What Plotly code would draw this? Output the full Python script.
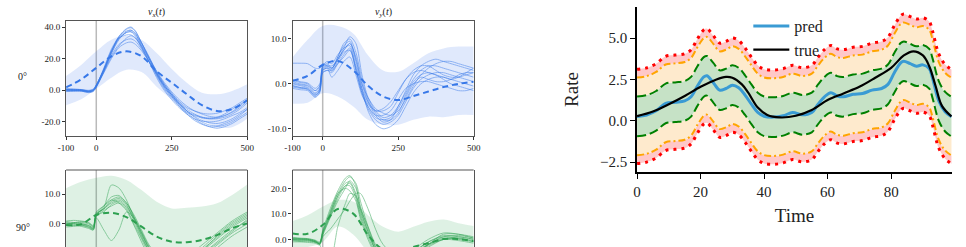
import plotly.graph_objects as go

# ---------------- data: left panels ----------------
EVENT_TIME = 0
BAND_T = [-100, -50, 0, 50, 100, 150, 200, 250, 300, 350, 400, 450, 500]

# v_x(t), 0 deg
VX0_MEAN = [1.9, 6.9, 14.2, 21.5, 24.6, 21.5, 12.0, 4.8, -2.5, -9.4, -13.1, -11.9, -6.3]
VX0_UP = [9.0, 16.0, 24.6, 32.0, 34.4, 32.0, 23.5, 13.5, 4.8, -1.5, -2.5, -0.4, 3.8]
VX0_LO = [-9.4, -5.6, 1.0, 8.0, 13.0, 11.5, 2.3, -5.6, -11.9, -18.5, -23.3, -23.3, -18.0]
VX0_T = [-100, -75, -50, -25, -10, 0, 25, 50, 75, 100, 115, 130, 150, 175, 200, 225, 250, 275, 300, 325, 350, 375, 400, 425, 450, 475, 500]
VX0_TRIALS = [
    [0.5, 0.3, 0.2, -0.8, 0.2, 3, 14, 26, 34, 38.5, 39.5, 37, 30, 21, 12, 4, -2, -8, -13, -17, -20, -22, -22.5, -21, -19, -16, -12],
    [-0.5, -0.3, -0.6, -1.2, -0.5, 2, 12, 23, 32, 37, 38, 36, 30, 21, 11, 3, -3, -9, -14, -18, -21, -23, -24, -23, -21, -18, -15],
    [0.8, 0.6, 0.5, 0, 0.8, 3.5, 13, 24, 33, 36.5, 37, 34, 27, 18, 9, 1, -5, -10, -14, -16, -17.5, -18, -17.5, -16, -13.5, -10, -6],
    [0.2, 0, -0.2, -0.6, 0, 2.5, 11, 20, 27, 30, 30.5, 29, 25, 18, 11, 4, -2, -7, -11, -13, -14.5, -15, -14.5, -13, -11, -8, -5],
    [-0.2, -0.4, -0.3, -1, -0.2, 2.8, 13.5, 25, 33.5, 37.5, 38, 35.5, 28, 18, 8, 0, -6, -11, -15, -18, -19.5, -20, -19.5, -18, -16, -14, -11],
    [1.0, 0.8, 0.4, -0.3, 0.5, 3.2, 12.5, 22, 29, 32, 32.5, 31, 26, 18, 10, 3, -3, -8, -12, -15, -17, -18, -18, -17, -15, -12, -8],
    [0.3, 0.1, 0, -0.9, -0.3, 2.2, 12, 24, 34, 39, 40, 37.5, 30, 20, 10, 2, -4, -10, -15, -19, -21.5, -23, -23, -22, -20, -17, -14],
    [-0.8, -0.6, -0.5, -1.5, -0.8, 1.8, 11.5, 21, 28, 33, 34.5, 33, 28, 20, 12, 5, -1, -6, -10, -13, -15, -16.5, -17, -16, -14, -11, -7],
    [0, -0.1, -0.1, -0.7, 0, 2.6, 12.8, 24, 32.5, 36.5, 37, 35, 29, 20, 11, 3, -3, -8.5, -13, -16.5, -19, -20.5, -21, -20, -18, -15, -12],
    [0.6, 0.4, 0.3, -0.4, 0.4, 3.3, 13.2, 25, 33, 35, 35, 33, 27, 19, 10, 2, -4, -9, -13, -15.5, -17, -17.5, -17, -15, -12, -9, -6],
]

# v_y(t), 0 deg
VY0_MEAN = [0.67, 1.8, 4.2, 5.1, 3.1, -0.4, -2.8, -3.6, -2.7, -1.7, -0.7, 0.0, 0.5]
VY0_UP = [5.9, 9.8, 12.9, 12.9, 11.3, 6.4, 3.0, 2.7, 4.6, 6.8, 7.9, 8.3, 8.3]
VY0_LO = [-4.4, -4.2, -2.1, -2.8, -5.0, -8.0, -9.1, -9.1, -8.0, -7.3, -7.4, -6.9, -6.9]
VY0_T = [-100, -75, -50, -25, -10, 0, 15, 30, 50, 70, 90, 110, 130, 150, 175, 200, 225, 250, 275, 300, 325, 350, 375, 400, 425, 450, 475, 500]
VY0_TRIALS = [
    [0.5, 0, -0.3, -1.5, -0.5, 4, 4.5, 3.5, 5.5, 7.5, 9, 6, 0, -4, -7, -8.5, -8, -5, -2, 1, 3, 4, 4, 3.5, 3, 2.5, 2, 1.5],
    [-1, -1.3, -1.5, -3, -2, 2.5, 3, 2.5, 4.5, 6.5, 8, 3, -2, -5.5, -8, -9, -8.5, -7, -4, -1, 1, 2, 2.5, 2.5, 2, 1.5, 1, 0.5],
    [4.6, 4.6, 4.5, 3.5, 3.5, 4.5, 4, 3.5, 5.5, 8, 10.5, 9, 2, -3, -6, -7.5, -7, -5, -1.5, 2, 4, 5, 5.5, 5, 4.5, 4, 3.5, 3],
    [0.8, 0.3, 0, -1.5, -0.5, 3, 3.5, 1.5, 3, 5, 6, 2, -2.5, -5, -7, -7, -6, -3.5, -1, 0, 0.5, 0.5, 0, -0.5, -1, -1.5, -1.5, -1],
    [-0.5, -0.8, -1, -2.5, -1.5, 3.5, 4, 3.5, 6, 8.5, 9.5, 5, -1, -6, -9, -10, -9.5, -8, -5, -2, 0, 1, 1.5, 1.5, 1, 0.5, 0, -0.5],
    [0.2, -0.2, -0.5, -2, -1, 4, 5, 4.5, 6.5, 8, 8.5, 4, -1, -4, -6, -6, -5, -2, 1, 3, 4, 4, 3, 2, 1.5, 1.5, 2, 2.5],
    [-0.3, -0.8, -1.2, -2.8, -1.8, 2.5, 3, 3, 4.5, 6, 7.5, 3.5, -1.5, -4.5, -6, -5.5, -4, -1.5, 1, 2.5, 3, 2.5, 2, 1, 0, -0.5, -1, -1.5],
    [1, 0.5, 0.2, -1, 0, 3.8, 4.2, 4, 5.5, 7.5, 9, 5.5, 0, -3, -5.5, -6.5, -7, -6, -3.5, -0.5, 2, 3.5, 4.5, 5, 5, 4.5, 4, 3.5],
    [0, -0.4, -0.8, -2.2, -1.2, 3.2, 3.8, 2.8, 5, 7, 7.5, 3, -2, -5, -7.5, -8, -7.5, -5.5, -2.5, 0.5, 2, 2.5, 2, 1.5, 1, 1.5, 2.5, 3.5],
    [-0.7, -1, -1.2, -2.5, -1.5, 3, 3.5, 3.2, 6, 9, 10, 7, 1, -3.5, -6.5, -8, -8, -6.5, -3, 0, 1.5, 1, 0.5, 0.5, 1, 2, 2.5, 2.5],
]

# v_x(t), 90 deg
VX90_MEAN = [-0.3, -0.1, 3.0, 3.7, 2.3, -0.9, -4.2, -5.9, -6.1, -5.3, -3.7, -1.4, 0.2]
VX90_UP = [11.9, 14.1, 15.4, 16.1, 14.7, 11.3, 7.4, 5.2, 5.4, 5.8, 6.9, 9.7, 13.2]
VX90_LO = [-12.0, -11.0, -9.5, -9.0, -9.5, -13.0, -16.0, -18.0, -18.0, -17.0, -16.0, -14.0, -12.0]
VX90_T = [-100, -75, -50, -25, -10, 0, 25, 50, 75, 100, 125, 150, 175, 200, 250, 300, 350, 400, 450, 500]
VX90_TRIALS = [
    [0, 0.3, 0.5, 0, -1, 3, 5, 7, 8, 6, 2, -3, -8, -11, -13, -12, -9, -5, -1, 2],
    [-1, -0.8, -0.5, -1.2, -2, 2.5, 4.5, 6, 7, 5, 0, -5, -10, -13, -15, -14, -11, -7, -3, 0],
    [1, 1.2, 1, 0.5, -0.5, 3.5, 6, 9, 9.5, 7, 3, -2, -7, -10, -12, -11, -7, -3, 1, 4],
    [0.5, 0.2, 0, -0.5, -1.5, 3, 5.5, 13, 12, 8, 2, -4, -9, -12, -14, -13, -10, -6, -2, 1],
    [-0.5, -0.5, -0.8, -1.5, -2, 2, -2, -5.5, -2, 4, 2, -3, -8, -11, -13, -12, -9, -4, 0, 3],
    [0.2, 0, -0.3, -1, -1.5, 3.5, 5, 7.5, 8.5, 6.5, 1, -4.5, -9, -12, -14, -13, -10, -6.5, -2.5, 1.5],
    [-0.2, 0.4, 0.8, 0.3, -0.8, 4, 6, 8, 7, 4.5, -0.5, -6, -11, -14, -16, -15, -12, -8, -4, -1],
    [0.8, 0.5, 0.2, -0.5, -1.2, 2.8, 4, 6.5, 7.5, 5.5, 1.5, -3.5, -8.5, -11.5, -13, -12, -8, -3.5, 0.5, 3.5],
    [0, -0.3, -0.2, -0.8, -1.8, 3.2, 5.2, 8, 9, 7, 2.5, -2.5, -7.5, -10.5, -12.5, -11.5, -8.5, -4.5, -0.5, 2.5],
]

# v_y(t), 90 deg
VY90_MEAN = [2.3, 2.2, 5.6, 11.9, 10.2, 1.7, -4.0, -5.0, -3.0, -1.5, 0.1, 0.1, -0.7]
VY90_UP = [7.2, 9.5, 12.8, 15.4, 14.8, 9.5, 4.9, 3.0, 4.9, 6.9, 7.8, 6.3, 5.2]
VY90_LO = [-3.0, -3.0, -1.0, 5.0, 2.0, -5.0, -10.0, -12.0, -10.0, -8.0, -7.0, -7.0, -7.0]
VY90_T = [-100, -75, -50, -25, -10, 0, 25, 50, 75, 90, 110, 125, 150, 175, 200, 250, 300, 350, 400, 450, 500]
VY90_TRIALS = [
    [0.5, 0.3, 0.2, -0.5, -1.5, 2, 9, 16, 21, 22, 17, 10, 2, -4, -7, -8, -5, -1, 1, 0.5, -0.5],
    [-0.5, -0.8, -0.8, -1.2, -2, 1.5, 8.5, 15, 20, 23, 20, 13, 4, -3, -7, -9, -6, -2, 0.5, 0, -1],
    [0.2, 0, 0, -0.8, -1.8, 3, 11, 18, 23, 24.5, 22, 15, 5, -3, -8, -10, -7, -2, 2, 2, 1],
    [0, -0.3, -0.3, -1, -1.5, 2.5, 10, 17, 21, 21, 16, 9, 1, -5, -8, -8, -4, 0, 2.5, 2, 0.5],
    [-1, -1, -1.2, -1.5, -2.2, 1, 4, 8, 12, 15, 18, 18, 12, 4, -2, -7, -6, -3, 0, 1, 0],
    [0.8, 0.5, 0.3, -0.3, -1, 3.5, 12, 19, 24, 25, 21, 12, 3, -4, -8, -9, -5, -1, 1.5, 1, 0],
    [-0.3, -0.5, -0.5, -1, -2, -6, -8, 5, 14, 18, 17, 12, 5, -2, -6, -8, -5, -2, 0, -0.5, -1.5],
    [0.3, 0.2, 0, -0.6, -1.4, 2.2, 9.5, 17, 22, 22.5, 18, 11, 3, -4, -7.5, -9, -6, -2.5, 0, 0.3, -0.8],
    [0, 0, -0.2, -0.9, -1.7, 2.8, 10.5, 18, 20, 19, 15, 8, 0, -6, -9, -9.5, -6, -2, 1, 1.5, 0.5],
]

LEFT_XTICKS = [-100, 0, 250, 500]
LEFT_XTICKTEXT = ["-100", "0", "250", "500"]
VX0_YTICKS = [-20, 0, 20, 40]
VX0_YTEXT = ["-20.0", "0.0", "20.0", "40.0"]
VY0_YTICKS = [-10, 0, 10]
VY0_YTEXT = ["-10.0", "0.0", "10.0"]
VX90_YTICKS = [0, 10]
VX90_YTEXT = ["0.0", "10.0"]
VY90_YTICKS = [0, 10, 20]
VY90_YTEXT = ["0.0", "10.0", "20.0"]
COL_TITLES = ["<i>v</i><sub><i>x</i></sub>(<i>t</i>)", "<i>v</i><sub><i>y</i></sub>(<i>t</i>)"]
ROW_LABELS = ["0°", "90°"]

# ---------------- data: right panel ----------------
PRED_T = [0, 3, 6, 9, 12, 15, 17, 19, 21, 22, 24, 26, 28, 30, 32, 34, 36, 38, 40, 43, 46, 49, 52, 55, 57, 59, 61, 63, 65, 68, 71, 74, 77, 79, 81, 83, 84, 86, 88, 90, 92, 93, 95, 97, 99]
PRED = [0.26, 0.35, 0.6, 1.05, 1.12, 1.2, 1.45, 2.1, 2.65, 2.72, 2.3, 1.85, 1.95, 2.15, 2.0, 1.55, 1.0, 0.5, 0.27, 0.22, 0.3, 0.5, 0.36, 0.5, 1.0, 1.45, 1.7, 1.5, 1.45, 1.6, 1.65, 1.85, 1.95, 2.2, 2.9, 3.5, 3.6, 3.45, 3.3, 3.38, 3.15, 2.6, 1.2, 0.55, 0.25]
TRUE_T = [0, 5, 10, 15, 20, 25, 28, 30, 33, 35, 38, 41, 45, 50, 55, 60, 65, 70, 75, 80, 84, 87, 90, 92, 94, 96, 99]
TRUE = [0.28, 0.56, 1.0, 1.5, 2.05, 2.5, 2.65, 2.6, 2.2, 1.7, 0.8, 0.35, 0.2, 0.3, 0.65, 1.25, 1.65, 2.05, 2.6, 3.2, 3.95, 4.2, 3.95, 3.3, 2.1, 0.9, 0.26]
HALF_WIDTH = {"green": 1.2, "orange": 2.35, "red": 2.85}
RIGHT_XTICKS = [0, 20, 40, 60, 80]
RIGHT_YTICKS = [-2.5, 0.0, 2.5, 5.0]

# ---------------- styling ----------------
W, H = 966, 247
SERIF = "Liberation Serif"
BLUE = "rgb(55,120,232)"
GREEN = "rgb(45,160,80)"
BLUE_BAND = "rgba(60,120,235,0.16)"
GREEN_BAND = "rgba(50,170,90,0.16)"

fig = go.Figure()

panels = [
    ("x", "y", [59, 243], [21, 136], [-28.9, 43.8], (VX0_MEAN, VX0_UP, VX0_LO, VX0_T, VX0_TRIALS), BLUE, BLUE_BAND, VX0_YTICKS, VX0_YTEXT, False),
    ("x2", "y2", [289, 473], [21, 136], [-11.6, 14.0], (VY0_MEAN, VY0_UP, VY0_LO, VY0_T, VY0_TRIALS), BLUE, BLUE_BAND, VY0_YTICKS, VY0_YTEXT, False),
    ("x3", "y3", [59, 243], [170, 247], [-7.67, 18.0], (VX90_MEAN, VX90_UP, VX90_LO, VX90_T, VX90_TRIALS), GREEN, GREEN_BAND, VX90_YTICKS, VX90_YTEXT, True),
    ("x4", "y4", [289, 473], [170, 247], [-3.0, 27.2], (VY90_MEAN, VY90_UP, VY90_LO, VY90_T, VY90_TRIALS), GREEN, GREEN_BAND, VY90_YTICKS, VY90_YTEXT, True),
]

layout_axes = {}
shapes = []
for xa, ya, xd, yd, yr, data, color, band, yt, ytt, bottom in panels:
    mean, up, lo, tt, trials = data
    fig.add_trace(go.Scatter(x=BAND_T, y=lo, xaxis=xa, yaxis=ya, mode="lines",
                             line=dict(width=0, shape="spline"), showlegend=False, hoverinfo="skip"))
    fig.add_trace(go.Scatter(x=BAND_T, y=up, xaxis=xa, yaxis=ya, mode="lines", fill="tonexty",
                             fillcolor=band, line=dict(width=0, shape="spline"), showlegend=False, hoverinfo="skip"))
    for tr in trials:
        fig.add_trace(go.Scatter(x=tt, y=tr, xaxis=xa, yaxis=ya, mode="lines", opacity=0.55,
                                 line=dict(color=color, width=0.9, shape="spline", smoothing=0.8),
                                 showlegend=False, hoverinfo="skip"))
    fig.add_trace(go.Scatter(x=BAND_T, y=mean, xaxis=xa, yaxis=ya, mode="lines",
                             line=dict(color=color, width=2, dash="6px,4px", shape="spline"),
                             showlegend=False, hoverinfo="skip"))
    xkey = "xaxis" + xa[1:]
    ykey = "yaxis" + ya[1:]
    layout_axes[xkey] = dict(
        domain=[xd[0] / W, xd[1] / W], range=[-100, 500], anchor=ya,
        showgrid=False, zeroline=False,
        showline=not bottom, mirror=True, linecolor="#555", linewidth=1.2,
        ticks="" if bottom else "outside", ticklen=3, tickcolor="#333",
        tickvals=LEFT_XTICKS, ticktext=LEFT_XTICKTEXT, showticklabels=not bottom,
        tickfont=dict(family=SERIF, size=9, color="#222"),
    )
    layout_axes[ykey] = dict(
        domain=[1 - yd[1] / H, 1 - yd[0] / H], range=yr, anchor=xa,
        showgrid=False, zeroline=False,
        showline=True, mirror=True, linecolor="#555", linewidth=1.2,
        ticks="outside", ticklen=3, tickcolor="#333",
        tickvals=yt, ticktext=ytt,
        tickfont=dict(family=SERIF, size=9, color="#222"),
    )
    shapes.append(dict(type="line", xref=xa, yref=ya + " domain", x0=EVENT_TIME, x1=EVENT_TIME, y0=0, y1=1,
                       line=dict(color="rgba(140,140,140,0.6)", width=1.5), layer="below"))
    if bottom:
        shapes.append(dict(type="line", xref=xa + " domain", yref=ya + " domain", x0=0, x1=1, y0=1, y1=1,
                           line=dict(color="#555", width=1.2)))

# ---------------- right panel ----------------
def offset(vals, k):
    return [v + k for v in vals]

band_order = [
    (-HALF_WIDTH["red"], None),
    (-HALF_WIDTH["orange"], "#ffc8c8"),
    (-HALF_WIDTH["green"], "#feeacd"),
    (HALF_WIDTH["green"], "#c6e2c6"),
    (HALF_WIDTH["orange"], "#feeacd"),
    (HALF_WIDTH["red"], "#ffc8c8"),
]
for k, fc in band_order:
    fig.add_trace(go.Scatter(x=PRED_T, y=offset(PRED, k), xaxis="x5", yaxis="y5", mode="lines",
                             fill="tonexty" if fc else None, fillcolor=fc,
                             line=dict(width=0, shape="spline"), showlegend=False, hoverinfo="skip"))

line_styles = [
    ("green", dict(color="green", width=2, dash="9px,4px")),
    ("orange", dict(color="orange", width=2, dash="7px,3px,2px,3px")),
    ("red", dict(color="red", width=3, dash="3px,5px")),
]
for name, st in line_styles:
    for sgn in (-1, 1):
        fig.add_trace(go.Scatter(x=PRED_T, y=offset(PRED, sgn * HALF_WIDTH[name]), xaxis="x5", yaxis="y5",
                                 mode="lines", line=dict(shape="spline", **st), showlegend=False, hoverinfo="skip"))

fig.add_trace(go.Scatter(x=PRED_T, y=PRED, xaxis="x5", yaxis="y5", mode="lines", name="pred",
                         line=dict(color="rgb(58,155,212)", width=3, shape="spline")))
fig.add_trace(go.Scatter(x=TRUE_T, y=TRUE, xaxis="x5", yaxis="y5", mode="lines", name="true",
                         line=dict(color="black", width=2.2, shape="spline")))

layout_axes["xaxis5"] = dict(
    domain=[639 / W, 959 / W], range=[0, 99.2], anchor="y5",
    showgrid=False, zeroline=False, showline=True, linecolor="black", linewidth=1.5,
    ticks="outside", ticklen=5, tickwidth=1.2, tickcolor="black", tickvals=RIGHT_XTICKS,
    tickfont=dict(family=SERIF, size=15, color="#222"),
    title=dict(text="Time", font=dict(family=SERIF, size=19, color="#222"), standoff=10),
)
layout_axes["yaxis5"] = dict(
    domain=[1 - 172 / H, 1 - 7 / H], range=[-3.1, 6.88], anchor="x5",
    showgrid=False, zeroline=False, showline=True, linecolor="black", linewidth=1.5,
    ticks="outside", ticklen=5, tickwidth=1.2, tickcolor="black", tickvals=RIGHT_YTICKS, tickformat=".1f",
    tickfont=dict(family=SERIF, size=15, color="#222"),
    title=dict(text="Rate", font=dict(family=SERIF, size=19, color="#222"), standoff=16),
)

annotations = []
for i, t in enumerate(COL_TITLES):
    xc = ([59, 243], [289, 473])[i]
    annotations.append(dict(text=t, xref="paper", yref="paper", x=(xc[0] + xc[1]) / 2 / W, y=1 - 12 / H,
                            showarrow=False, xanchor="center", yanchor="middle",
                            font=dict(family=SERIF, size=10, color="#222")))
for lbl, yc in zip(ROW_LABELS, [77, 227]):
    annotations.append(dict(text=lbl, xref="paper", yref="paper", x=15 / W, y=1 - yc / H,
                            showarrow=False, xanchor="center", yanchor="middle",
                            font=dict(family=SERIF, size=10, color="#222")))

fig.update_layout(
    width=W, height=H, margin=dict(l=0, r=0, t=0, b=0),
    paper_bgcolor="white", plot_bgcolor="white",
    showlegend=True,
    legend=dict(x=752 / W, y=1 - 9 / H, xanchor="left", yanchor="top", bgcolor="rgba(0,0,0,0)",
                traceorder="normal",
                font=dict(family=SERIF, size=16, color="#222"), tracegroupgap=0, itemwidth=36),
    shapes=shapes, annotations=annotations,
    **layout_axes,
)

fig.write_html("out.html")
